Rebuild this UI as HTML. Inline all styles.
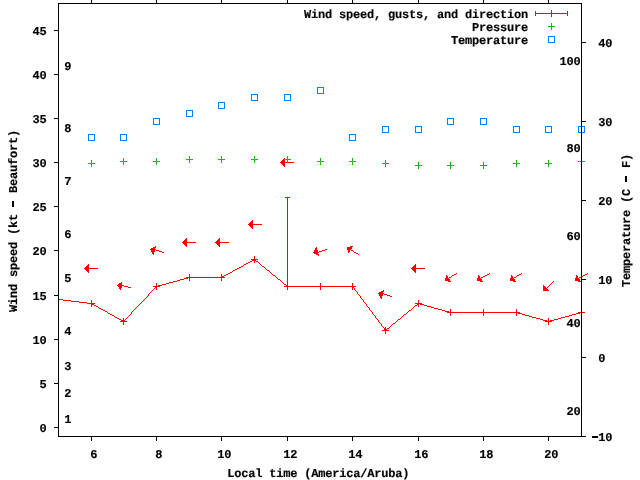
<!DOCTYPE html>
<html lang="en"><head><meta charset="utf-8"><title>Wind speed, gusts, and direction</title><style>
html,body{margin:0;padding:0;background:#fff;width:640px;height:480px;overflow:hidden}
svg{display:block;will-change:transform}
svg path{shape-rendering:crispEdges}
text{text-rendering:geometricPrecision;font-family:"Liberation Mono", "DejaVu Sans Mono", monospace;font-weight:bold;font-size:12.00px;letter-spacing:-0.2px;fill:#000;stroke:#000;stroke-width:0.15px}
</style></head><body>
<svg width="640" height="480" viewBox="0 0 640 480">
<rect x="0" y="0" width="640" height="480" fill="#fff"/>
<text x="46.5" y="432" text-anchor="end">0</text>
<text x="46.5" y="388" text-anchor="end">5</text>
<text x="46.5" y="344" text-anchor="end">10</text>
<text x="46.5" y="300" text-anchor="end">15</text>
<text x="46.5" y="255" text-anchor="end">20</text>
<text x="46.5" y="211" text-anchor="end">25</text>
<text x="46.5" y="167" text-anchor="end">30</text>
<text x="46.5" y="123" text-anchor="end">35</text>
<text x="46.5" y="79" text-anchor="end">40</text>
<text x="46.5" y="35" text-anchor="end">45</text>
<text x="90.3" y="458">6</text>
<text x="155.3" y="458">8</text>
<text x="217.3" y="458">10</text>
<text x="283.3" y="458">12</text>
<text x="348.3" y="458">14</text>
<text x="414.3" y="458">16</text>
<text x="479.3" y="458">18</text>
<text x="544.3" y="458">20</text>
<text x="591.3" y="441"><tspan dy="-1">-</tspan><tspan dy="1">10</tspan></text>
<text x="598.3" y="362">0</text>
<text x="598.3" y="284">10</text>
<text x="598.3" y="205">20</text>
<text x="598.3" y="126">30</text>
<text x="598.3" y="47">40</text>
<text x="64.3" y="423">1</text>
<text x="64.3" y="397">2</text>
<text x="64.3" y="370">3</text>
<text x="64.3" y="335">4</text>
<text x="64.3" y="282">5</text>
<text x="64.3" y="238">6</text>
<text x="64.3" y="185">7</text>
<text x="64.3" y="132">8</text>
<text x="64.3" y="70">9</text>
<text x="580.5" y="415" text-anchor="end">20</text>
<text x="580.5" y="327" text-anchor="end">40</text>
<text x="580.5" y="240" text-anchor="end">60</text>
<text x="580.5" y="152" text-anchor="end">80</text>
<text x="580.5" y="65" text-anchor="end">100</text>
<text x="227.3" y="477">Local time (America/Aruba)</text>
<text transform="translate(17 221) rotate(-90)" text-anchor="middle">Wind speed (kt <tspan dy="-1">-</tspan><tspan dy="1"> Beaufort)</tspan></text>
<text transform="translate(630 220.5) rotate(-90)" text-anchor="middle">Temperature (C <tspan dy="-1">-</tspan><tspan dy="1"> F)</tspan></text>
<text x="528" y="18" text-anchor="end">Wind speed, gusts, and direction</text>
<text x="528" y="31" text-anchor="end">Pressure</text>
<text x="528" y="44" text-anchor="end">Temperature</text>
<path fill="#000000" d="M91 0h1v1h-1zM156 0h1v1h-1zM221 0h1v1h-1zM287 0h1v1h-1zM352 0h1v1h-1zM418 0h1v1h-1zM483 0h1v1h-1zM548 0h1v1h-1zM91 1h1v1h-1zM156 1h1v1h-1zM221 1h1v1h-1zM287 1h1v1h-1zM352 1h1v1h-1zM418 1h1v1h-1zM483 1h1v1h-1zM548 1h1v1h-1zM91 2h1v1h-1zM156 2h1v1h-1zM221 2h1v1h-1zM287 2h1v1h-1zM352 2h1v1h-1zM418 2h1v1h-1zM483 2h1v1h-1zM548 2h1v1h-1zM58 3h524v1h-524zM58 4h1v1h-1zM581 4h1v1h-1zM58 5h1v1h-1zM581 5h1v1h-1zM58 6h1v1h-1zM581 6h1v1h-1zM58 7h1v1h-1zM581 7h1v1h-1zM58 8h1v1h-1zM581 8h1v1h-1zM58 9h1v1h-1zM581 9h1v1h-1zM58 10h1v1h-1zM581 10h1v1h-1zM58 11h1v1h-1zM581 11h1v1h-1zM58 12h1v1h-1zM581 12h1v1h-1zM58 13h1v1h-1zM581 13h1v1h-1zM58 14h1v1h-1zM581 14h1v1h-1zM58 15h1v1h-1zM581 15h1v1h-1zM58 16h1v1h-1zM581 16h1v1h-1zM58 17h1v1h-1zM581 17h1v1h-1zM58 18h1v1h-1zM581 18h1v1h-1zM58 19h1v1h-1zM581 19h1v1h-1zM58 20h1v1h-1zM581 20h1v1h-1zM58 21h1v1h-1zM581 21h1v1h-1zM58 22h1v1h-1zM581 22h1v1h-1zM58 23h1v1h-1zM581 23h1v1h-1zM58 24h1v1h-1zM581 24h1v1h-1zM58 25h1v1h-1zM581 25h1v1h-1zM58 26h1v1h-1zM581 26h1v1h-1zM58 27h1v1h-1zM581 27h1v1h-1zM58 28h1v1h-1zM581 28h1v1h-1zM58 29h1v1h-1zM581 29h1v1h-1zM54 30h5v1h-5zM581 30h1v1h-1zM58 31h1v1h-1zM581 31h1v1h-1zM58 32h1v1h-1zM581 32h1v1h-1zM58 33h1v1h-1zM581 33h1v1h-1zM58 34h1v1h-1zM581 34h1v1h-1zM58 35h1v1h-1zM581 35h1v1h-1zM58 36h1v1h-1zM581 36h1v1h-1zM58 37h1v1h-1zM581 37h1v1h-1zM58 38h1v1h-1zM581 38h1v1h-1zM58 39h1v1h-1zM581 39h1v1h-1zM58 40h1v1h-1zM581 40h1v1h-1zM58 41h1v1h-1zM581 41h1v1h-1zM58 42h1v1h-1zM581 42h5v1h-5zM58 43h1v1h-1zM581 43h1v1h-1zM58 44h1v1h-1zM581 44h1v1h-1zM58 45h1v1h-1zM581 45h1v1h-1zM58 46h1v1h-1zM581 46h1v1h-1zM58 47h1v1h-1zM581 47h1v1h-1zM58 48h1v1h-1zM581 48h1v1h-1zM58 49h1v1h-1zM581 49h1v1h-1zM58 50h1v1h-1zM581 50h1v1h-1zM58 51h1v1h-1zM581 51h1v1h-1zM58 52h1v1h-1zM581 52h1v1h-1zM58 53h1v1h-1zM581 53h1v1h-1zM58 54h1v1h-1zM581 54h1v1h-1zM58 55h1v1h-1zM581 55h1v1h-1zM58 56h1v1h-1zM581 56h1v1h-1zM58 57h1v1h-1zM581 57h1v1h-1zM58 58h1v1h-1zM581 58h1v1h-1zM58 59h1v1h-1zM581 59h1v1h-1zM58 60h1v1h-1zM581 60h1v1h-1zM58 61h1v1h-1zM581 61h1v1h-1zM58 62h1v1h-1zM581 62h1v1h-1zM58 63h1v1h-1zM581 63h1v1h-1zM58 64h1v1h-1zM581 64h1v1h-1zM58 65h1v1h-1zM581 65h1v1h-1zM58 66h1v1h-1zM581 66h1v1h-1zM58 67h1v1h-1zM581 67h1v1h-1zM58 68h1v1h-1zM581 68h1v1h-1zM58 69h1v1h-1zM581 69h1v1h-1zM58 70h1v1h-1zM581 70h1v1h-1zM58 71h1v1h-1zM581 71h1v1h-1zM58 72h1v1h-1zM581 72h1v1h-1zM58 73h1v1h-1zM581 73h1v1h-1zM54 74h5v1h-5zM581 74h1v1h-1zM58 75h1v1h-1zM581 75h1v1h-1zM58 76h1v1h-1zM581 76h1v1h-1zM58 77h1v1h-1zM581 77h1v1h-1zM58 78h1v1h-1zM581 78h1v1h-1zM58 79h1v1h-1zM581 79h1v1h-1zM58 80h1v1h-1zM581 80h1v1h-1zM58 81h1v1h-1zM581 81h1v1h-1zM58 82h1v1h-1zM581 82h1v1h-1zM58 83h1v1h-1zM581 83h1v1h-1zM58 84h1v1h-1zM581 84h1v1h-1zM58 85h1v1h-1zM581 85h1v1h-1zM58 86h1v1h-1zM581 86h1v1h-1zM58 87h1v1h-1zM581 87h1v1h-1zM58 88h1v1h-1zM581 88h1v1h-1zM58 89h1v1h-1zM581 89h1v1h-1zM58 90h1v1h-1zM581 90h1v1h-1zM58 91h1v1h-1zM581 91h1v1h-1zM58 92h1v1h-1zM581 92h1v1h-1zM58 93h1v1h-1zM581 93h1v1h-1zM58 94h1v1h-1zM581 94h1v1h-1zM58 95h1v1h-1zM581 95h1v1h-1zM58 96h1v1h-1zM581 96h1v1h-1zM58 97h1v1h-1zM581 97h1v1h-1zM58 98h1v1h-1zM581 98h1v1h-1zM58 99h1v1h-1zM581 99h1v1h-1zM58 100h1v1h-1zM581 100h1v1h-1zM58 101h1v1h-1zM581 101h1v1h-1zM58 102h1v1h-1zM581 102h1v1h-1zM58 103h1v1h-1zM581 103h1v1h-1zM58 104h1v1h-1zM581 104h1v1h-1zM58 105h1v1h-1zM581 105h1v1h-1zM58 106h1v1h-1zM581 106h1v1h-1zM58 107h1v1h-1zM581 107h1v1h-1zM58 108h1v1h-1zM581 108h1v1h-1zM58 109h1v1h-1zM581 109h1v1h-1zM58 110h1v1h-1zM581 110h1v1h-1zM58 111h1v1h-1zM581 111h1v1h-1zM58 112h1v1h-1zM581 112h1v1h-1zM58 113h1v1h-1zM581 113h1v1h-1zM58 114h1v1h-1zM581 114h1v1h-1zM58 115h1v1h-1zM581 115h1v1h-1zM58 116h1v1h-1zM581 116h1v1h-1zM58 117h1v1h-1zM581 117h1v1h-1zM54 118h5v1h-5zM581 118h1v1h-1zM58 119h1v1h-1zM581 119h1v1h-1zM58 120h1v1h-1zM581 120h1v1h-1zM58 121h1v1h-1zM581 121h5v1h-5zM58 122h1v1h-1zM581 122h1v1h-1zM58 123h1v1h-1zM581 123h1v1h-1zM58 124h1v1h-1zM581 124h1v1h-1zM58 125h1v1h-1zM581 125h1v1h-1zM58 126h1v1h-1zM581 126h1v1h-1zM58 127h1v1h-1zM581 127h1v1h-1zM58 128h1v1h-1zM581 128h1v1h-1zM58 129h1v1h-1zM581 129h1v1h-1zM58 130h1v1h-1zM581 130h1v1h-1zM58 131h1v1h-1zM581 131h1v1h-1zM58 132h1v1h-1zM581 132h1v1h-1zM58 133h1v1h-1zM581 133h1v1h-1zM58 134h1v1h-1zM581 134h1v1h-1zM58 135h1v1h-1zM581 135h1v1h-1zM58 136h1v1h-1zM581 136h1v1h-1zM58 137h1v1h-1zM581 137h1v1h-1zM58 138h1v1h-1zM581 138h1v1h-1zM58 139h1v1h-1zM581 139h1v1h-1zM58 140h1v1h-1zM581 140h1v1h-1zM58 141h1v1h-1zM581 141h1v1h-1zM58 142h1v1h-1zM581 142h1v1h-1zM58 143h1v1h-1zM581 143h1v1h-1zM58 144h1v1h-1zM581 144h1v1h-1zM58 145h1v1h-1zM581 145h1v1h-1zM58 146h1v1h-1zM581 146h1v1h-1zM58 147h1v1h-1zM581 147h1v1h-1zM58 148h1v1h-1zM581 148h1v1h-1zM58 149h1v1h-1zM581 149h1v1h-1zM58 150h1v1h-1zM581 150h1v1h-1zM58 151h1v1h-1zM581 151h1v1h-1zM58 152h1v1h-1zM581 152h1v1h-1zM58 153h1v1h-1zM581 153h1v1h-1zM58 154h1v1h-1zM581 154h1v1h-1zM58 155h1v1h-1zM581 155h1v1h-1zM58 156h1v1h-1zM581 156h1v1h-1zM58 157h1v1h-1zM581 157h1v1h-1zM58 158h1v1h-1zM581 158h1v1h-1zM58 159h1v1h-1zM581 159h1v1h-1zM58 160h1v1h-1zM581 160h1v1h-1zM58 161h1v1h-1zM581 161h1v1h-1zM54 162h5v1h-5zM581 162h1v1h-1zM58 163h1v1h-1zM581 163h1v1h-1zM58 164h1v1h-1zM581 164h1v1h-1zM58 165h1v1h-1zM581 165h1v1h-1zM58 166h1v1h-1zM581 166h1v1h-1zM58 167h1v1h-1zM581 167h1v1h-1zM58 168h1v1h-1zM581 168h1v1h-1zM58 169h1v1h-1zM581 169h1v1h-1zM58 170h1v1h-1zM581 170h1v1h-1zM58 171h1v1h-1zM581 171h1v1h-1zM58 172h1v1h-1zM581 172h1v1h-1zM58 173h1v1h-1zM581 173h1v1h-1zM58 174h1v1h-1zM581 174h1v1h-1zM58 175h1v1h-1zM581 175h1v1h-1zM58 176h1v1h-1zM581 176h1v1h-1zM625 176h2v1h-2zM58 177h1v1h-1zM581 177h1v1h-1zM625 177h2v1h-2zM58 178h1v1h-1zM581 178h1v1h-1zM625 178h2v1h-2zM58 179h1v1h-1zM581 179h1v1h-1zM625 179h2v1h-2zM58 180h1v1h-1zM581 180h1v1h-1zM625 180h2v1h-2zM58 181h1v1h-1zM581 181h1v1h-1zM625 181h2v1h-2zM58 182h1v1h-1zM581 182h1v1h-1zM58 183h1v1h-1zM581 183h1v1h-1zM58 184h1v1h-1zM581 184h1v1h-1zM58 185h1v1h-1zM581 185h1v1h-1zM58 186h1v1h-1zM581 186h1v1h-1zM58 187h1v1h-1zM581 187h1v1h-1zM58 188h1v1h-1zM581 188h1v1h-1zM58 189h1v1h-1zM581 189h1v1h-1zM58 190h1v1h-1zM581 190h1v1h-1zM58 191h1v1h-1zM581 191h1v1h-1zM58 192h1v1h-1zM581 192h1v1h-1zM58 193h1v1h-1zM581 193h1v1h-1zM58 194h1v1h-1zM581 194h1v1h-1zM58 195h1v1h-1zM581 195h1v1h-1zM58 196h1v1h-1zM581 196h1v1h-1zM58 197h1v1h-1zM581 197h1v1h-1zM58 198h1v1h-1zM581 198h1v1h-1zM58 199h1v1h-1zM581 199h1v1h-1zM58 200h1v1h-1zM581 200h5v1h-5zM12 201h2v1h-2zM58 201h1v1h-1zM581 201h1v1h-1zM12 202h2v1h-2zM58 202h1v1h-1zM581 202h1v1h-1zM12 203h2v1h-2zM58 203h1v1h-1zM581 203h1v1h-1zM12 204h2v1h-2zM58 204h1v1h-1zM581 204h1v1h-1zM12 205h2v1h-2zM58 205h1v1h-1zM581 205h1v1h-1zM12 206h2v1h-2zM54 206h5v1h-5zM581 206h1v1h-1zM58 207h1v1h-1zM581 207h1v1h-1zM58 208h1v1h-1zM581 208h1v1h-1zM58 209h1v1h-1zM581 209h1v1h-1zM58 210h1v1h-1zM581 210h1v1h-1zM58 211h1v1h-1zM581 211h1v1h-1zM58 212h1v1h-1zM581 212h1v1h-1zM58 213h1v1h-1zM581 213h1v1h-1zM58 214h1v1h-1zM581 214h1v1h-1zM58 215h1v1h-1zM581 215h1v1h-1zM58 216h1v1h-1zM581 216h1v1h-1zM58 217h1v1h-1zM581 217h1v1h-1zM58 218h1v1h-1zM581 218h1v1h-1zM58 219h1v1h-1zM581 219h1v1h-1zM58 220h1v1h-1zM581 220h1v1h-1zM58 221h1v1h-1zM581 221h1v1h-1zM58 222h1v1h-1zM581 222h1v1h-1zM58 223h1v1h-1zM581 223h1v1h-1zM58 224h1v1h-1zM581 224h1v1h-1zM58 225h1v1h-1zM581 225h1v1h-1zM58 226h1v1h-1zM581 226h1v1h-1zM58 227h1v1h-1zM581 227h1v1h-1zM58 228h1v1h-1zM581 228h1v1h-1zM58 229h1v1h-1zM581 229h1v1h-1zM58 230h1v1h-1zM581 230h1v1h-1zM58 231h1v1h-1zM581 231h1v1h-1zM58 232h1v1h-1zM581 232h1v1h-1zM58 233h1v1h-1zM581 233h1v1h-1zM58 234h1v1h-1zM581 234h1v1h-1zM58 235h1v1h-1zM581 235h1v1h-1zM58 236h1v1h-1zM581 236h1v1h-1zM58 237h1v1h-1zM581 237h1v1h-1zM58 238h1v1h-1zM581 238h1v1h-1zM58 239h1v1h-1zM581 239h1v1h-1zM58 240h1v1h-1zM581 240h1v1h-1zM58 241h1v1h-1zM581 241h1v1h-1zM58 242h1v1h-1zM581 242h1v1h-1zM58 243h1v1h-1zM581 243h1v1h-1zM58 244h1v1h-1zM581 244h1v1h-1zM58 245h1v1h-1zM581 245h1v1h-1zM58 246h1v1h-1zM581 246h1v1h-1zM58 247h1v1h-1zM581 247h1v1h-1zM58 248h1v1h-1zM581 248h1v1h-1zM58 249h1v1h-1zM581 249h1v1h-1zM54 250h5v1h-5zM581 250h1v1h-1zM58 251h1v1h-1zM581 251h1v1h-1zM58 252h1v1h-1zM581 252h1v1h-1zM58 253h1v1h-1zM581 253h1v1h-1zM58 254h1v1h-1zM581 254h1v1h-1zM58 255h1v1h-1zM581 255h1v1h-1zM58 256h1v1h-1zM581 256h1v1h-1zM58 257h1v1h-1zM581 257h1v1h-1zM58 258h1v1h-1zM581 258h1v1h-1zM58 259h1v1h-1zM581 259h1v1h-1zM58 260h1v1h-1zM581 260h1v1h-1zM58 261h1v1h-1zM581 261h1v1h-1zM58 262h1v1h-1zM581 262h1v1h-1zM58 263h1v1h-1zM581 263h1v1h-1zM58 264h1v1h-1zM581 264h1v1h-1zM58 265h1v1h-1zM581 265h1v1h-1zM58 266h1v1h-1zM581 266h1v1h-1zM58 267h1v1h-1zM581 267h1v1h-1zM58 268h1v1h-1zM581 268h1v1h-1zM58 269h1v1h-1zM581 269h1v1h-1zM58 270h1v1h-1zM581 270h1v1h-1zM58 271h1v1h-1zM581 271h1v1h-1zM58 272h1v1h-1zM581 272h1v1h-1zM58 273h1v1h-1zM581 273h1v1h-1zM58 274h1v1h-1zM581 274h1v1h-1zM58 275h1v1h-1zM581 275h1v1h-1zM58 276h1v1h-1zM581 276h1v1h-1zM58 277h1v1h-1zM581 277h1v1h-1zM58 278h1v1h-1zM581 278h1v1h-1zM58 279h1v1h-1zM581 279h5v1h-5zM58 280h1v1h-1zM581 280h1v1h-1zM58 281h1v1h-1zM581 281h1v1h-1zM58 282h1v1h-1zM581 282h1v1h-1zM58 283h1v1h-1zM581 283h1v1h-1zM58 284h1v1h-1zM581 284h1v1h-1zM58 285h1v1h-1zM581 285h1v1h-1zM58 286h1v1h-1zM581 286h1v1h-1zM58 287h1v1h-1zM581 287h1v1h-1zM58 288h1v1h-1zM581 288h1v1h-1zM58 289h1v1h-1zM581 289h1v1h-1zM58 290h1v1h-1zM581 290h1v1h-1zM58 291h1v1h-1zM581 291h1v1h-1zM58 292h1v1h-1zM581 292h1v1h-1zM58 293h1v1h-1zM581 293h1v1h-1zM58 294h1v1h-1zM581 294h1v1h-1zM54 295h5v1h-5zM581 295h1v1h-1zM58 296h1v1h-1zM581 296h1v1h-1zM58 297h1v1h-1zM581 297h1v1h-1zM58 298h1v1h-1zM581 298h1v1h-1zM58 299h1v1h-1zM581 299h1v1h-1zM58 300h1v1h-1zM581 300h1v1h-1zM58 301h1v1h-1zM581 301h1v1h-1zM58 302h1v1h-1zM581 302h1v1h-1zM58 303h1v1h-1zM581 303h1v1h-1zM58 304h1v1h-1zM581 304h1v1h-1zM58 305h1v1h-1zM581 305h1v1h-1zM58 306h1v1h-1zM581 306h1v1h-1zM58 307h1v1h-1zM581 307h1v1h-1zM58 308h1v1h-1zM581 308h1v1h-1zM58 309h1v1h-1zM581 309h1v1h-1zM58 310h1v1h-1zM581 310h1v1h-1zM58 311h1v1h-1zM581 311h1v1h-1zM58 312h1v1h-1zM581 312h1v1h-1zM58 313h1v1h-1zM581 313h1v1h-1zM58 314h1v1h-1zM581 314h1v1h-1zM58 315h1v1h-1zM581 315h1v1h-1zM58 316h1v1h-1zM581 316h1v1h-1zM58 317h1v1h-1zM581 317h1v1h-1zM58 318h1v1h-1zM581 318h1v1h-1zM58 319h1v1h-1zM581 319h1v1h-1zM58 320h1v1h-1zM581 320h1v1h-1zM58 321h1v1h-1zM581 321h1v1h-1zM58 322h1v1h-1zM581 322h1v1h-1zM58 323h1v1h-1zM581 323h1v1h-1zM58 324h1v1h-1zM581 324h1v1h-1zM58 325h1v1h-1zM581 325h1v1h-1zM58 326h1v1h-1zM581 326h1v1h-1zM58 327h1v1h-1zM581 327h1v1h-1zM58 328h1v1h-1zM581 328h1v1h-1zM58 329h1v1h-1zM581 329h1v1h-1zM58 330h1v1h-1zM581 330h1v1h-1zM58 331h1v1h-1zM581 331h1v1h-1zM58 332h1v1h-1zM581 332h1v1h-1zM58 333h1v1h-1zM581 333h1v1h-1zM58 334h1v1h-1zM581 334h1v1h-1zM58 335h1v1h-1zM581 335h1v1h-1zM58 336h1v1h-1zM581 336h1v1h-1zM58 337h1v1h-1zM581 337h1v1h-1zM58 338h1v1h-1zM581 338h1v1h-1zM54 339h5v1h-5zM581 339h1v1h-1zM58 340h1v1h-1zM581 340h1v1h-1zM58 341h1v1h-1zM581 341h1v1h-1zM58 342h1v1h-1zM581 342h1v1h-1zM58 343h1v1h-1zM581 343h1v1h-1zM58 344h1v1h-1zM581 344h1v1h-1zM58 345h1v1h-1zM581 345h1v1h-1zM58 346h1v1h-1zM581 346h1v1h-1zM58 347h1v1h-1zM581 347h1v1h-1zM58 348h1v1h-1zM581 348h1v1h-1zM58 349h1v1h-1zM581 349h1v1h-1zM58 350h1v1h-1zM581 350h1v1h-1zM58 351h1v1h-1zM581 351h1v1h-1zM58 352h1v1h-1zM581 352h1v1h-1zM58 353h1v1h-1zM581 353h1v1h-1zM58 354h1v1h-1zM581 354h1v1h-1zM58 355h1v1h-1zM581 355h1v1h-1zM58 356h1v1h-1zM581 356h1v1h-1zM58 357h1v1h-1zM581 357h5v1h-5zM58 358h1v1h-1zM581 358h1v1h-1zM58 359h1v1h-1zM581 359h1v1h-1zM58 360h1v1h-1zM581 360h1v1h-1zM58 361h1v1h-1zM581 361h1v1h-1zM58 362h1v1h-1zM581 362h1v1h-1zM58 363h1v1h-1zM581 363h1v1h-1zM58 364h1v1h-1zM581 364h1v1h-1zM58 365h1v1h-1zM581 365h1v1h-1zM58 366h1v1h-1zM581 366h1v1h-1zM58 367h1v1h-1zM581 367h1v1h-1zM58 368h1v1h-1zM581 368h1v1h-1zM58 369h1v1h-1zM581 369h1v1h-1zM58 370h1v1h-1zM581 370h1v1h-1zM58 371h1v1h-1zM581 371h1v1h-1zM58 372h1v1h-1zM581 372h1v1h-1zM58 373h1v1h-1zM581 373h1v1h-1zM58 374h1v1h-1zM581 374h1v1h-1zM58 375h1v1h-1zM581 375h1v1h-1zM58 376h1v1h-1zM581 376h1v1h-1zM58 377h1v1h-1zM581 377h1v1h-1zM58 378h1v1h-1zM581 378h1v1h-1zM58 379h1v1h-1zM581 379h1v1h-1zM58 380h1v1h-1zM581 380h1v1h-1zM58 381h1v1h-1zM581 381h1v1h-1zM58 382h1v1h-1zM581 382h1v1h-1zM54 383h5v1h-5zM581 383h1v1h-1zM58 384h1v1h-1zM581 384h1v1h-1zM58 385h1v1h-1zM581 385h1v1h-1zM58 386h1v1h-1zM581 386h1v1h-1zM58 387h1v1h-1zM581 387h1v1h-1zM58 388h1v1h-1zM581 388h1v1h-1zM58 389h1v1h-1zM581 389h1v1h-1zM58 390h1v1h-1zM581 390h1v1h-1zM58 391h1v1h-1zM581 391h1v1h-1zM58 392h1v1h-1zM581 392h1v1h-1zM58 393h1v1h-1zM581 393h1v1h-1zM58 394h1v1h-1zM581 394h1v1h-1zM58 395h1v1h-1zM581 395h1v1h-1zM58 396h1v1h-1zM581 396h1v1h-1zM58 397h1v1h-1zM581 397h1v1h-1zM58 398h1v1h-1zM581 398h1v1h-1zM58 399h1v1h-1zM581 399h1v1h-1zM58 400h1v1h-1zM581 400h1v1h-1zM58 401h1v1h-1zM581 401h1v1h-1zM58 402h1v1h-1zM581 402h1v1h-1zM58 403h1v1h-1zM581 403h1v1h-1zM58 404h1v1h-1zM581 404h1v1h-1zM58 405h1v1h-1zM581 405h1v1h-1zM58 406h1v1h-1zM581 406h1v1h-1zM58 407h1v1h-1zM581 407h1v1h-1zM58 408h1v1h-1zM581 408h1v1h-1zM58 409h1v1h-1zM581 409h1v1h-1zM58 410h1v1h-1zM581 410h1v1h-1zM58 411h1v1h-1zM581 411h1v1h-1zM58 412h1v1h-1zM581 412h1v1h-1zM58 413h1v1h-1zM581 413h1v1h-1zM58 414h1v1h-1zM581 414h1v1h-1zM58 415h1v1h-1zM581 415h1v1h-1zM58 416h1v1h-1zM581 416h1v1h-1zM58 417h1v1h-1zM581 417h1v1h-1zM58 418h1v1h-1zM581 418h1v1h-1zM58 419h1v1h-1zM581 419h1v1h-1zM58 420h1v1h-1zM581 420h1v1h-1zM58 421h1v1h-1zM581 421h1v1h-1zM58 422h1v1h-1zM581 422h1v1h-1zM58 423h1v1h-1zM581 423h1v1h-1zM58 424h1v1h-1zM581 424h1v1h-1zM58 425h1v1h-1zM581 425h1v1h-1zM58 426h1v1h-1zM581 426h1v1h-1zM54 427h5v1h-5zM581 427h1v1h-1zM58 428h1v1h-1zM581 428h1v1h-1zM58 429h1v1h-1zM581 429h1v1h-1zM58 430h1v1h-1zM581 430h1v1h-1zM58 431h1v1h-1zM581 431h1v1h-1zM58 432h1v1h-1zM581 432h1v1h-1zM58 433h1v1h-1zM581 433h1v1h-1zM58 434h1v1h-1zM581 434h1v1h-1zM58 435h1v1h-1zM581 435h1v1h-1zM58 436h528v1h-528zM592 436h6v1h-6zM91 437h1v1h-1zM156 437h1v1h-1zM221 437h1v1h-1zM287 437h1v1h-1zM352 437h1v1h-1zM418 437h1v1h-1zM483 437h1v1h-1zM548 437h1v1h-1zM592 437h6v1h-6zM91 438h1v1h-1zM156 438h1v1h-1zM221 438h1v1h-1zM287 438h1v1h-1zM352 438h1v1h-1zM418 438h1v1h-1zM483 438h1v1h-1zM548 438h1v1h-1zM91 439h1v1h-1zM156 439h1v1h-1zM221 439h1v1h-1zM287 439h1v1h-1zM352 439h1v1h-1zM418 439h1v1h-1zM483 439h1v1h-1zM548 439h1v1h-1zM91 440h1v1h-1zM156 440h1v1h-1zM221 440h1v1h-1zM287 440h1v1h-1zM352 440h1v1h-1zM418 440h1v1h-1zM483 440h1v1h-1zM548 440h1v1h-1z"/>
<path fill="#ff0000" d="M551 10h1v1h-1zM535 11h1v1h-1zM551 11h1v1h-1zM567 11h1v1h-1zM535 12h1v1h-1zM551 12h1v1h-1zM567 12h1v1h-1zM535 13h33v1h-33zM535 14h1v1h-1zM551 14h1v1h-1zM567 14h1v1h-1zM535 15h1v1h-1zM551 15h1v1h-1zM567 15h1v1h-1zM551 16h1v1h-1zM284 158h1v1h-1zM283 159h1v1h-1zM282 160h3v1h-3zM281 161h4v1h-4zM280 162h7v1h-7zM288 162h6v1h-6zM281 163h4v1h-4zM282 164h3v1h-3zM283 165h2v1h-2zM284 166h1v1h-1zM285 197h5v1h-5zM287 198h1v1h-1zM287 199h1v1h-1zM287 200h1v1h-1zM287 201h1v1h-1zM287 202h1v1h-1zM287 203h1v1h-1zM287 204h1v1h-1zM287 205h1v1h-1zM287 206h1v1h-1zM287 207h1v1h-1zM287 208h1v1h-1zM287 209h1v1h-1zM287 210h1v1h-1zM287 211h1v1h-1zM287 212h1v1h-1zM287 213h1v1h-1zM287 214h1v1h-1zM287 215h1v1h-1zM287 216h1v1h-1zM287 217h1v1h-1zM287 218h1v1h-1zM287 219h1v1h-1zM252 220h1v1h-1zM287 220h1v1h-1zM251 221h2v1h-2zM287 221h1v1h-1zM250 222h3v1h-3zM287 222h1v1h-1zM249 223h4v1h-4zM287 223h1v1h-1zM248 224h14v1h-14zM287 224h1v1h-1zM249 225h4v1h-4zM287 225h1v1h-1zM250 226h3v1h-3zM287 226h1v1h-1zM251 227h2v1h-2zM287 227h1v1h-1zM252 228h1v1h-1zM287 228h1v1h-1zM287 229h1v1h-1zM287 230h1v1h-1zM287 231h1v1h-1zM287 232h1v1h-1zM287 233h1v1h-1zM287 234h1v1h-1zM287 235h1v1h-1zM287 236h1v1h-1zM287 237h1v1h-1zM186 238h1v1h-1zM219 238h1v1h-1zM287 238h1v1h-1zM185 239h2v1h-2zM218 239h2v1h-2zM287 239h1v1h-1zM184 240h3v1h-3zM217 240h3v1h-3zM287 240h1v1h-1zM183 241h4v1h-4zM216 241h4v1h-4zM287 241h1v1h-1zM182 242h14v1h-14zM215 242h14v1h-14zM287 242h1v1h-1zM183 243h4v1h-4zM216 243h4v1h-4zM287 243h1v1h-1zM184 244h3v1h-3zM217 244h3v1h-3zM287 244h1v1h-1zM185 245h2v1h-2zM218 245h2v1h-2zM287 245h1v1h-1zM155 246h1v1h-1zM186 246h1v1h-1zM219 246h1v1h-1zM287 246h1v1h-1zM350 246h3v1h-3zM153 247h3v1h-3zM287 247h1v1h-1zM316 247h1v1h-1zM347 247h5v1h-5zM151 248h4v1h-4zM287 248h1v1h-1zM315 248h2v1h-2zM347 248h5v1h-5zM150 249h6v1h-6zM287 249h1v1h-1zM315 249h2v1h-2zM325 249h2v1h-2zM347 249h4v1h-4zM151 250h4v1h-4zM156 250h3v1h-3zM287 250h1v1h-1zM314 250h4v1h-4zM322 250h3v1h-3zM348 250h2v1h-2zM351 250h2v1h-2zM151 251h4v1h-4zM159 251h3v1h-3zM287 251h1v1h-1zM314 251h4v1h-4zM319 251h3v1h-3zM348 251h2v1h-2zM353 251h1v1h-1zM152 252h2v1h-2zM162 252h2v1h-2zM287 252h1v1h-1zM313 252h6v1h-6zM348 252h1v1h-1zM354 252h2v1h-2zM152 253h2v1h-2zM287 253h1v1h-1zM314 253h4v1h-4zM356 253h2v1h-2zM153 254h1v1h-1zM287 254h1v1h-1zM316 254h3v1h-3zM358 254h1v1h-1zM287 255h1v1h-1zM318 255h1v1h-1zM254 256h1v1h-1zM287 256h1v1h-1zM254 257h1v1h-1zM287 257h1v1h-1zM254 258h1v1h-1zM287 258h1v1h-1zM251 259h7v1h-7zM287 259h1v1h-1zM252 260h4v1h-4zM287 260h1v1h-1zM250 261h2v1h-2zM254 261h1v1h-1zM256 261h2v1h-2zM287 261h1v1h-1zM248 262h2v1h-2zM254 262h1v1h-1zM258 262h1v1h-1zM287 262h1v1h-1zM246 263h2v1h-2zM259 263h1v1h-1zM287 263h1v1h-1zM88 264h1v1h-1zM244 264h2v1h-2zM260 264h1v1h-1zM287 264h1v1h-1zM415 264h1v1h-1zM87 265h2v1h-2zM243 265h1v1h-1zM261 265h1v1h-1zM287 265h1v1h-1zM414 265h2v1h-2zM86 266h3v1h-3zM241 266h2v1h-2zM262 266h2v1h-2zM287 266h1v1h-1zM413 266h3v1h-3zM85 267h4v1h-4zM239 267h2v1h-2zM264 267h1v1h-1zM287 267h1v1h-1zM412 267h4v1h-4zM84 268h14v1h-14zM237 268h2v1h-2zM265 268h1v1h-1zM287 268h1v1h-1zM411 268h14v1h-14zM85 269h4v1h-4zM235 269h2v1h-2zM266 269h1v1h-1zM287 269h1v1h-1zM412 269h4v1h-4zM86 270h3v1h-3zM233 270h2v1h-2zM267 270h2v1h-2zM287 270h1v1h-1zM413 270h3v1h-3zM87 271h2v1h-2zM232 271h1v1h-1zM269 271h1v1h-1zM287 271h1v1h-1zM414 271h2v1h-2zM88 272h1v1h-1zM230 272h2v1h-2zM270 272h1v1h-1zM287 272h1v1h-1zM415 272h1v1h-1zM228 273h2v1h-2zM271 273h1v1h-1zM287 273h1v1h-1zM456 273h1v1h-1zM489 273h1v1h-1zM521 273h1v1h-1zM587 273h1v1h-1zM189 274h1v1h-1zM221 274h1v1h-1zM226 274h2v1h-2zM272 274h1v1h-1zM287 274h1v1h-1zM454 274h2v1h-2zM487 274h2v1h-2zM519 274h2v1h-2zM585 274h2v1h-2zM189 275h1v1h-1zM221 275h1v1h-1zM224 275h2v1h-2zM273 275h2v1h-2zM287 275h1v1h-1zM446 275h1v1h-1zM452 275h2v1h-2zM478 275h1v1h-1zM485 275h2v1h-2zM511 275h1v1h-1zM517 275h2v1h-2zM576 275h1v1h-1zM583 275h2v1h-2zM189 276h1v1h-1zM221 276h3v1h-3zM275 276h1v1h-1zM287 276h1v1h-1zM446 276h2v1h-2zM451 276h1v1h-1zM478 276h2v1h-2zM483 276h2v1h-2zM511 276h2v1h-2zM516 276h1v1h-1zM576 276h2v1h-2zM582 276h1v1h-1zM186 277h39v1h-39zM276 277h1v1h-1zM287 277h1v1h-1zM446 277h2v1h-2zM449 277h2v1h-2zM478 277h2v1h-2zM481 277h2v1h-2zM511 277h2v1h-2zM514 277h2v1h-2zM576 277h2v1h-2zM579 277h2v1h-2zM184 278h4v1h-4zM189 278h1v1h-1zM221 278h1v1h-1zM277 278h1v1h-1zM287 278h1v1h-1zM445 278h4v1h-4zM477 278h4v1h-4zM510 278h4v1h-4zM575 278h4v1h-4zM180 279h4v1h-4zM189 279h1v1h-1zM221 279h1v1h-1zM278 279h2v1h-2zM287 279h1v1h-1zM445 279h5v1h-5zM477 279h5v1h-5zM510 279h5v1h-5zM575 279h5v1h-5zM177 280h3v1h-3zM189 280h1v1h-1zM221 280h1v1h-1zM280 280h1v1h-1zM287 280h1v1h-1zM445 280h5v1h-5zM477 280h5v1h-5zM510 280h5v1h-5zM575 280h5v1h-5zM173 281h4v1h-4zM281 281h1v1h-1zM287 281h1v1h-1zM448 281h3v1h-3zM480 281h3v1h-3zM513 281h3v1h-3zM553 281h1v1h-1zM578 281h3v1h-3zM121 282h1v1h-1zM169 282h4v1h-4zM282 282h1v1h-1zM287 282h1v1h-1zM552 282h1v1h-1zM119 283h3v1h-3zM156 283h1v1h-1zM166 283h3v1h-3zM283 283h1v1h-1zM287 283h1v1h-1zM320 283h1v1h-1zM352 283h1v1h-1zM551 283h1v1h-1zM118 284h4v1h-4zM156 284h1v1h-1zM162 284h4v1h-4zM284 284h2v1h-2zM287 284h1v1h-1zM320 284h1v1h-1zM352 284h1v1h-1zM550 284h1v1h-1zM117 285h7v1h-7zM156 285h1v1h-1zM158 285h4v1h-4zM286 285h2v1h-2zM320 285h1v1h-1zM352 285h1v1h-1zM543 285h1v1h-1zM549 285h1v1h-1zM118 286h4v1h-4zM124 286h4v1h-4zM153 286h7v1h-7zM284 286h72v1h-72zM543 286h2v1h-2zM548 286h1v1h-1zM119 287h3v1h-3zM128 287h3v1h-3zM155 287h2v1h-2zM287 287h1v1h-1zM320 287h1v1h-1zM352 287h2v1h-2zM543 287h3v1h-3zM547 287h1v1h-1zM119 288h2v1h-2zM154 288h1v1h-1zM156 288h1v1h-1zM287 288h1v1h-1zM320 288h1v1h-1zM352 288h1v1h-1zM354 288h1v1h-1zM543 288h4v1h-4zM120 289h1v1h-1zM153 289h1v1h-1zM156 289h1v1h-1zM287 289h1v1h-1zM320 289h1v1h-1zM352 289h1v1h-1zM354 289h1v1h-1zM543 289h5v1h-5zM152 290h1v1h-1zM355 290h1v1h-1zM383 290h1v1h-1zM543 290h6v1h-6zM151 291h1v1h-1zM356 291h1v1h-1zM381 291h3v1h-3zM150 292h1v1h-1zM357 292h1v1h-1zM379 292h4v1h-4zM149 293h1v1h-1zM357 293h1v1h-1zM378 293h6v1h-6zM148 294h1v1h-1zM358 294h1v1h-1zM379 294h4v1h-4zM384 294h3v1h-3zM148 295h1v1h-1zM359 295h1v1h-1zM379 295h4v1h-4zM387 295h3v1h-3zM147 296h1v1h-1zM360 296h1v1h-1zM380 296h2v1h-2zM390 296h2v1h-2zM146 297h1v1h-1zM360 297h1v1h-1zM380 297h2v1h-2zM145 298h1v1h-1zM361 298h1v1h-1zM381 298h1v1h-1zM59 299h4v1h-4zM144 299h1v1h-1zM362 299h1v1h-1zM63 300h8v1h-8zM91 300h1v1h-1zM143 300h1v1h-1zM363 300h1v1h-1zM418 300h1v1h-1zM71 301h8v1h-8zM91 301h1v1h-1zM142 301h1v1h-1zM363 301h1v1h-1zM418 301h1v1h-1zM79 302h8v1h-8zM91 302h1v1h-1zM141 302h1v1h-1zM364 302h1v1h-1zM418 302h1v1h-1zM87 303h8v1h-8zM140 303h1v1h-1zM365 303h1v1h-1zM415 303h7v1h-7zM91 304h3v1h-3zM139 304h1v1h-1zM366 304h1v1h-1zM417 304h2v1h-2zM420 304h4v1h-4zM91 305h1v1h-1zM94 305h2v1h-2zM138 305h1v1h-1zM366 305h1v1h-1zM415 305h2v1h-2zM418 305h1v1h-1zM424 305h3v1h-3zM91 306h1v1h-1zM96 306h2v1h-2zM137 306h1v1h-1zM367 306h1v1h-1zM414 306h1v1h-1zM418 306h1v1h-1zM427 306h4v1h-4zM98 307h1v1h-1zM136 307h1v1h-1zM368 307h1v1h-1zM413 307h1v1h-1zM431 307h3v1h-3zM99 308h2v1h-2zM135 308h1v1h-1zM369 308h1v1h-1zM412 308h1v1h-1zM434 308h4v1h-4zM101 309h2v1h-2zM134 309h1v1h-1zM369 309h1v1h-1zM411 309h1v1h-1zM438 309h4v1h-4zM450 309h1v1h-1zM483 309h1v1h-1zM516 309h1v1h-1zM103 310h2v1h-2zM133 310h1v1h-1zM370 310h1v1h-1zM409 310h2v1h-2zM442 310h3v1h-3zM450 310h1v1h-1zM483 310h1v1h-1zM516 310h1v1h-1zM105 311h2v1h-2zM132 311h1v1h-1zM371 311h1v1h-1zM408 311h1v1h-1zM445 311h4v1h-4zM450 311h1v1h-1zM483 311h1v1h-1zM516 311h1v1h-1zM107 312h1v1h-1zM131 312h1v1h-1zM372 312h1v1h-1zM407 312h1v1h-1zM447 312h73v1h-73zM578 312h3v1h-3zM582 312h3v1h-3zM108 313h2v1h-2zM131 313h1v1h-1zM372 313h1v1h-1zM406 313h1v1h-1zM450 313h1v1h-1zM483 313h1v1h-1zM516 313h1v1h-1zM518 313h4v1h-4zM576 313h4v1h-4zM110 314h2v1h-2zM130 314h1v1h-1zM373 314h1v1h-1zM404 314h2v1h-2zM450 314h1v1h-1zM483 314h1v1h-1zM516 314h1v1h-1zM522 314h3v1h-3zM572 314h4v1h-4zM112 315h2v1h-2zM129 315h1v1h-1zM374 315h1v1h-1zM403 315h1v1h-1zM450 315h1v1h-1zM483 315h1v1h-1zM516 315h1v1h-1zM525 315h4v1h-4zM569 315h3v1h-3zM114 316h1v1h-1zM128 316h1v1h-1zM375 316h1v1h-1zM402 316h1v1h-1zM529 316h3v1h-3zM565 316h4v1h-4zM115 317h2v1h-2zM127 317h1v1h-1zM375 317h1v1h-1zM401 317h1v1h-1zM532 317h4v1h-4zM561 317h4v1h-4zM117 318h2v1h-2zM123 318h1v1h-1zM126 318h1v1h-1zM376 318h1v1h-1zM400 318h1v1h-1zM536 318h4v1h-4zM548 318h1v1h-1zM558 318h3v1h-3zM119 319h2v1h-2zM123 319h1v1h-1zM125 319h1v1h-1zM377 319h1v1h-1zM398 319h2v1h-2zM540 319h3v1h-3zM548 319h1v1h-1zM554 319h4v1h-4zM121 320h4v1h-4zM378 320h1v1h-1zM397 320h1v1h-1zM543 320h4v1h-4zM548 320h1v1h-1zM550 320h4v1h-4zM120 321h7v1h-7zM378 321h1v1h-1zM396 321h1v1h-1zM545 321h7v1h-7zM123 322h1v1h-1zM379 322h1v1h-1zM395 322h1v1h-1zM548 322h1v1h-1zM123 323h1v1h-1zM380 323h1v1h-1zM393 323h2v1h-2zM548 323h1v1h-1zM123 324h1v1h-1zM381 324h1v1h-1zM392 324h1v1h-1zM548 324h1v1h-1zM381 325h1v1h-1zM391 325h1v1h-1zM382 326h1v1h-1zM390 326h1v1h-1zM383 327h1v1h-1zM385 327h1v1h-1zM389 327h1v1h-1zM384 328h2v1h-2zM387 328h2v1h-2zM384 329h3v1h-3zM382 330h7v1h-7zM385 331h1v1h-1zM385 332h1v1h-1zM385 333h1v1h-1z"/>
<path fill="#00c000" d="M551 23h1v1h-1zM551 24h1v1h-1zM551 25h1v1h-1zM548 26h7v1h-7zM551 27h1v1h-1zM551 28h1v1h-1zM551 29h1v1h-1zM189 156h1v1h-1zM221 156h1v1h-1zM254 156h1v1h-1zM287 156h1v1h-1zM189 157h1v1h-1zM221 157h1v1h-1zM254 157h1v1h-1zM287 157h1v1h-1zM123 158h1v1h-1zM156 158h1v1h-1zM189 158h1v1h-1zM221 158h1v1h-1zM254 158h1v1h-1zM287 158h1v1h-1zM320 158h1v1h-1zM352 158h1v1h-1zM123 159h1v1h-1zM156 159h1v1h-1zM186 159h7v1h-7zM218 159h7v1h-7zM251 159h7v1h-7zM284 159h7v1h-7zM320 159h1v1h-1zM352 159h1v1h-1zM91 160h1v1h-1zM123 160h1v1h-1zM156 160h1v1h-1zM189 160h1v1h-1zM221 160h1v1h-1zM254 160h1v1h-1zM287 160h1v1h-1zM320 160h1v1h-1zM352 160h1v1h-1zM385 160h1v1h-1zM516 160h1v1h-1zM548 160h1v1h-1zM91 161h1v1h-1zM120 161h7v1h-7zM153 161h7v1h-7zM189 161h1v1h-1zM221 161h1v1h-1zM254 161h1v1h-1zM287 161h1v1h-1zM317 161h7v1h-7zM349 161h7v1h-7zM385 161h1v1h-1zM516 161h1v1h-1zM548 161h1v1h-1zM578 161h3v1h-3zM582 161h3v1h-3zM91 162h1v1h-1zM123 162h1v1h-1zM156 162h1v1h-1zM189 162h1v1h-1zM221 162h1v1h-1zM254 162h1v1h-1zM287 162h1v1h-1zM320 162h1v1h-1zM352 162h1v1h-1zM385 162h1v1h-1zM418 162h1v1h-1zM450 162h1v1h-1zM483 162h1v1h-1zM516 162h1v1h-1zM548 162h1v1h-1zM88 163h7v1h-7zM123 163h1v1h-1zM156 163h1v1h-1zM320 163h1v1h-1zM352 163h1v1h-1zM382 163h7v1h-7zM418 163h1v1h-1zM450 163h1v1h-1zM483 163h1v1h-1zM513 163h7v1h-7zM545 163h7v1h-7zM91 164h1v1h-1zM123 164h1v1h-1zM156 164h1v1h-1zM320 164h1v1h-1zM352 164h1v1h-1zM385 164h1v1h-1zM418 164h1v1h-1zM450 164h1v1h-1zM483 164h1v1h-1zM516 164h1v1h-1zM548 164h1v1h-1zM91 165h1v1h-1zM385 165h1v1h-1zM415 165h7v1h-7zM447 165h7v1h-7zM480 165h7v1h-7zM516 165h1v1h-1zM548 165h1v1h-1zM91 166h1v1h-1zM385 166h1v1h-1zM418 166h1v1h-1zM450 166h1v1h-1zM483 166h1v1h-1zM516 166h1v1h-1zM548 166h1v1h-1zM418 167h1v1h-1zM450 167h1v1h-1zM483 167h1v1h-1zM418 168h1v1h-1zM450 168h1v1h-1zM483 168h1v1h-1z"/>
<path fill="#0080ff" d="M548 36h7v1h-7zM548 37h1v1h-1zM554 37h1v1h-1zM548 38h1v1h-1zM554 38h1v1h-1zM548 39h1v1h-1zM554 39h1v1h-1zM548 40h1v1h-1zM554 40h1v1h-1zM548 41h1v1h-1zM554 41h1v1h-1zM548 42h7v1h-7zM317 87h7v1h-7zM317 88h1v1h-1zM323 88h1v1h-1zM317 89h1v1h-1zM323 89h1v1h-1zM317 90h1v1h-1zM323 90h1v1h-1zM317 91h1v1h-1zM323 91h1v1h-1zM317 92h1v1h-1zM323 92h1v1h-1zM317 93h7v1h-7zM251 94h7v1h-7zM284 94h7v1h-7zM251 95h1v1h-1zM257 95h1v1h-1zM284 95h1v1h-1zM290 95h1v1h-1zM251 96h1v1h-1zM257 96h1v1h-1zM284 96h1v1h-1zM290 96h1v1h-1zM251 97h1v1h-1zM257 97h1v1h-1zM284 97h1v1h-1zM290 97h1v1h-1zM251 98h1v1h-1zM257 98h1v1h-1zM284 98h1v1h-1zM290 98h1v1h-1zM251 99h1v1h-1zM257 99h1v1h-1zM284 99h1v1h-1zM290 99h1v1h-1zM251 100h7v1h-7zM284 100h7v1h-7zM218 102h7v1h-7zM218 103h1v1h-1zM224 103h1v1h-1zM218 104h1v1h-1zM224 104h1v1h-1zM218 105h1v1h-1zM224 105h1v1h-1zM218 106h1v1h-1zM224 106h1v1h-1zM218 107h1v1h-1zM224 107h1v1h-1zM218 108h7v1h-7zM186 110h7v1h-7zM186 111h1v1h-1zM192 111h1v1h-1zM186 112h1v1h-1zM192 112h1v1h-1zM186 113h1v1h-1zM192 113h1v1h-1zM186 114h1v1h-1zM192 114h1v1h-1zM186 115h1v1h-1zM192 115h1v1h-1zM186 116h7v1h-7zM153 118h7v1h-7zM447 118h7v1h-7zM480 118h7v1h-7zM153 119h1v1h-1zM159 119h1v1h-1zM447 119h1v1h-1zM453 119h1v1h-1zM480 119h1v1h-1zM486 119h1v1h-1zM153 120h1v1h-1zM159 120h1v1h-1zM447 120h1v1h-1zM453 120h1v1h-1zM480 120h1v1h-1zM486 120h1v1h-1zM153 121h1v1h-1zM159 121h1v1h-1zM447 121h1v1h-1zM453 121h1v1h-1zM480 121h1v1h-1zM486 121h1v1h-1zM153 122h1v1h-1zM159 122h1v1h-1zM447 122h1v1h-1zM453 122h1v1h-1zM480 122h1v1h-1zM486 122h1v1h-1zM153 123h1v1h-1zM159 123h1v1h-1zM447 123h1v1h-1zM453 123h1v1h-1zM480 123h1v1h-1zM486 123h1v1h-1zM153 124h7v1h-7zM447 124h7v1h-7zM480 124h7v1h-7zM382 126h7v1h-7zM415 126h7v1h-7zM513 126h7v1h-7zM545 126h7v1h-7zM578 126h3v1h-3zM582 126h3v1h-3zM382 127h1v1h-1zM388 127h1v1h-1zM415 127h1v1h-1zM421 127h1v1h-1zM513 127h1v1h-1zM519 127h1v1h-1zM545 127h1v1h-1zM551 127h1v1h-1zM578 127h1v1h-1zM584 127h1v1h-1zM382 128h1v1h-1zM388 128h1v1h-1zM415 128h1v1h-1zM421 128h1v1h-1zM513 128h1v1h-1zM519 128h1v1h-1zM545 128h1v1h-1zM551 128h1v1h-1zM578 128h1v1h-1zM584 128h1v1h-1zM382 129h1v1h-1zM388 129h1v1h-1zM415 129h1v1h-1zM421 129h1v1h-1zM513 129h1v1h-1zM519 129h1v1h-1zM545 129h1v1h-1zM551 129h1v1h-1zM578 129h1v1h-1zM584 129h1v1h-1zM382 130h1v1h-1zM388 130h1v1h-1zM415 130h1v1h-1zM421 130h1v1h-1zM513 130h1v1h-1zM519 130h1v1h-1zM545 130h1v1h-1zM551 130h1v1h-1zM578 130h1v1h-1zM584 130h1v1h-1zM382 131h1v1h-1zM388 131h1v1h-1zM415 131h1v1h-1zM421 131h1v1h-1zM513 131h1v1h-1zM519 131h1v1h-1zM545 131h1v1h-1zM551 131h1v1h-1zM578 131h1v1h-1zM584 131h1v1h-1zM382 132h7v1h-7zM415 132h7v1h-7zM513 132h7v1h-7zM545 132h7v1h-7zM578 132h3v1h-3zM582 132h3v1h-3zM88 134h7v1h-7zM120 134h7v1h-7zM349 134h7v1h-7zM88 135h1v1h-1zM94 135h1v1h-1zM120 135h1v1h-1zM126 135h1v1h-1zM349 135h1v1h-1zM355 135h1v1h-1zM88 136h1v1h-1zM94 136h1v1h-1zM120 136h1v1h-1zM126 136h1v1h-1zM349 136h1v1h-1zM355 136h1v1h-1zM88 137h1v1h-1zM94 137h1v1h-1zM120 137h1v1h-1zM126 137h1v1h-1zM349 137h1v1h-1zM355 137h1v1h-1zM88 138h1v1h-1zM94 138h1v1h-1zM120 138h1v1h-1zM126 138h1v1h-1zM349 138h1v1h-1zM355 138h1v1h-1zM88 139h1v1h-1zM94 139h1v1h-1zM120 139h1v1h-1zM126 139h1v1h-1zM349 139h1v1h-1zM355 139h1v1h-1zM88 140h7v1h-7zM120 140h7v1h-7zM349 140h7v1h-7z"/>
</svg></body></html>
